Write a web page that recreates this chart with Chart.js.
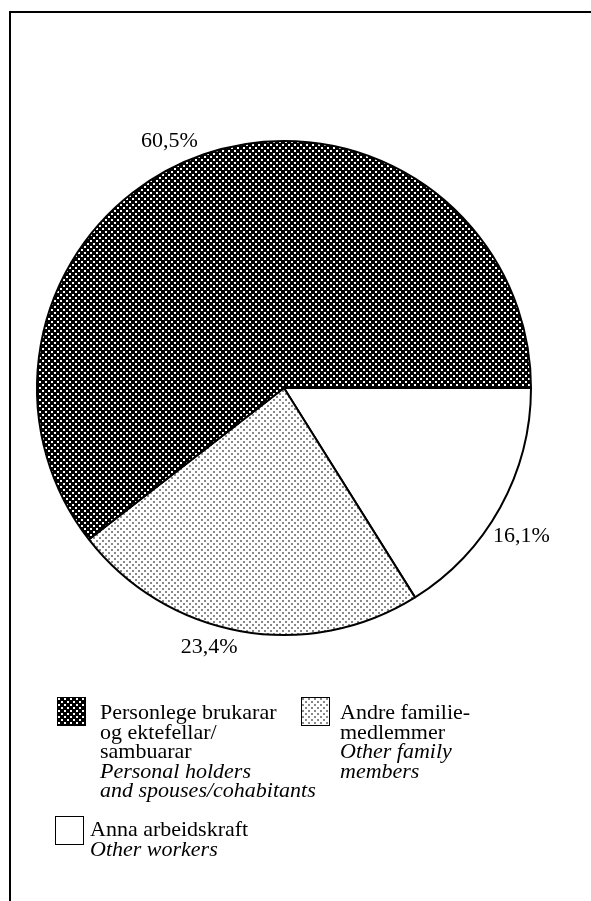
<!DOCTYPE html>
<html>
<head>
<meta charset="utf-8">
<script src="https://cdn.jsdelivr.net/npm/chart.js@4.4.1/dist/chart.umd.min.js"></script>
<style>
  html, body { margin: 0; padding: 0; background: #fff; }
  body { width: 591px; height: 901px; position: relative; overflow: hidden;
         font-family: "Liberation Serif", "Times New Roman", serif; color: #000; }
  #frame { position: absolute; left: 9px; top: 11px; width: 600px; height: 900px;
           border-top: 2px solid #000; border-left: 2px solid #000; }
  #pie { position: absolute; left: 0; top: 0; }
  .swatch { position: absolute; width: 27px; height: 27px; border: 1.5px solid #000; box-sizing: content-box; }
  .entry { position: absolute; font-size: 22px; line-height: 19.5px; white-space: nowrap; }
  .entry span { display: block; }
  .entry .en { font-style: italic; }
</style>
</head>
<body>
<div id="frame"></div>
<canvas id="pie" width="591" height="901"></canvas>
<div id="legend"></div>

<script>
// --- data ---
const categories = ['Personlege brukarar og ektefellar/sambuarar', 'Andre familiemedlemmer', 'Anna arbeidskraft'];
const categoriesEn = ['Personal holders and spouses/cohabitants', 'Other family members', 'Other workers'];
const shares = [60.5, 23.4, 16.1];
const valueLabels = ['60,5%', '23,4%', '16,1%'];
// legend text as it is broken in the figure
const legendLinesNo = [['Personlege brukarar', 'og ektefellar/', 'sambuarar'], ['Andre familie-', 'medlemmer'], ['Anna arbeidskraft']];
const legendLinesEn = [['Personal holders', 'and spouses/cohabitants'], ['Other family', 'members'], ['Other workers']];

// slices are drawn clockwise from 3 o'clock: white, light, dark
const order = [2, 1, 0];

// --- styles ---
function makeTile(bg, fg, dot) {
  const t = document.createElement('canvas');
  t.width = 6; t.height = 6;
  const g = t.getContext('2d');
  g.fillStyle = bg; g.fillRect(0, 0, 6, 6);
  g.fillStyle = fg;
  g.fillRect(0, 0, dot, dot);
  g.fillRect(3, 3, dot, dot);
  return t;
}
const tiles = [
  makeTile('#000', '#fff', 2),   // dark screen
  makeTile('#fff', '#888', 2),   // light screen
  null                            // plain white
];
const ctx = document.getElementById('pie').getContext('2d');
const fills = tiles.map(t => t ? ctx.createPattern(t, 'repeat') : '#fff');

// label placement relative to slice middle (degrees, px beyond rim)
const labelShift = [-6, 6, 3];
const labelGap = [25, 23, 33];

const sliceLabels = {
  id: 'sliceLabels',
  afterDatasetsDraw(chart) {
    const c = chart.ctx;
    const meta = chart.getDatasetMeta(0);
    c.save();
    c.font = '22px "Liberation Serif", serif';
    c.fillStyle = '#000';
    c.textAlign = 'center';
    c.textBaseline = 'middle';
    meta.data.forEach((arc, k) => {
      const i = order[k];
      const p = arc.getProps(['x', 'y', 'startAngle', 'endAngle', 'outerRadius'], true);
      const a = (p.startAngle + p.endAngle) / 2 + labelShift[i] * Math.PI / 180;
      const r = p.outerRadius + labelGap[i];
      c.fillText(valueLabels[i], p.x + r * Math.cos(a), p.y + r * Math.sin(a));
    });
    c.restore();
  }
};

new Chart(ctx, {
  type: 'pie',
  data: {
    labels: order.map(i => categories[i] + ' / ' + categoriesEn[i]),
    datasets: [{
      data: order.map(i => shares[i]),
      backgroundColor: order.map(i => fills[i]),
      borderColor: '#000',
      borderWidth: 2,
    }],
  },
  options: {
    responsive: false,
    animation: false,
    rotation: 90,
    layout: { padding: { left: 36, top: 140, right: 59, bottom: 265 } },
    plugins: {
      legend: { display: false },
      tooltip: { enabled: false },
    },
  },
  plugins: [sliceLabels],
});

// --- legend (HTML) ---
const legendPos = [
  { box: [57, 697], text: [100, 702] },
  { box: [301, 697], text: [340, 702] },
  { box: [55, 816], text: [90, 819] },
];
const legend = document.getElementById('legend');
legendPos.forEach((pos, i) => {
  const sw = document.createElement('div');
  sw.className = 'swatch';
  sw.style.left = pos.box[0] + 'px';
  sw.style.top = pos.box[1] + 'px';
  sw.style.background = tiles[i] ? 'url(' + tiles[i].toDataURL() + ')' : '#fff';
  legend.appendChild(sw);

  const tx = document.createElement('div');
  tx.className = 'entry';
  tx.style.left = pos.text[0] + 'px';
  tx.style.top = pos.text[1] + 'px';
  legendLinesNo[i].forEach(l => {
    const s = document.createElement('span'); s.textContent = l; tx.appendChild(s);
  });
  legendLinesEn[i].forEach(l => {
    const s = document.createElement('span'); s.className = 'en'; s.textContent = l; tx.appendChild(s);
  });
  legend.appendChild(tx);
});
</script>
</body>
</html>
